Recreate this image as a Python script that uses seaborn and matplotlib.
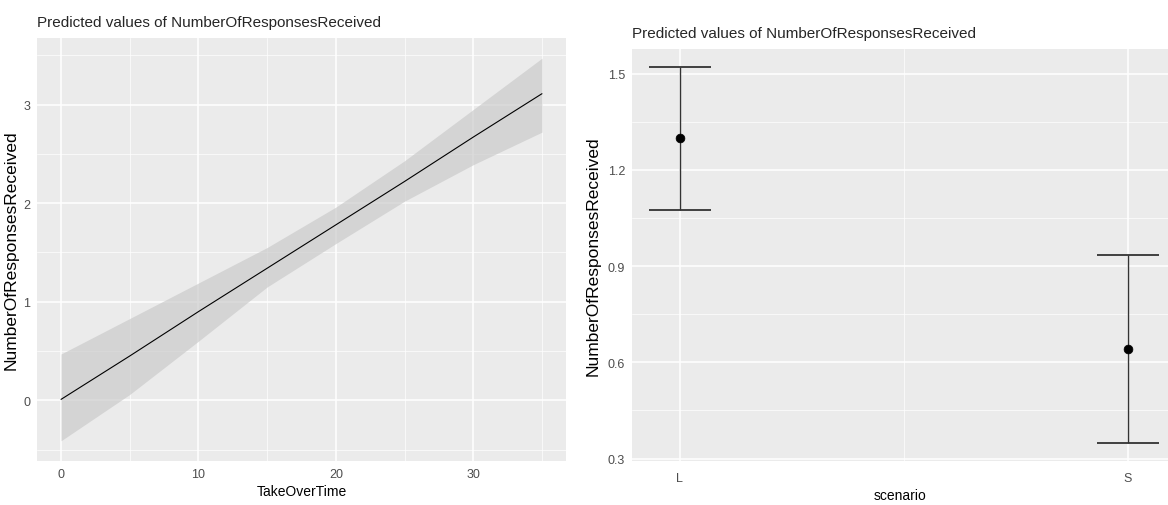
import numpy as np
import pandas as pd
import seaborn as sns
import matplotlib.pyplot as plt

# left panel: predicted values by TakeOverTime
takeover_time = [0, 5, 10, 15, 20, 25, 30, 35]
pred_time = [0.01, 0.45, 0.90, 1.34, 1.78, 2.22, 2.67, 3.11]
low_time = [-0.41, 0.06, 0.60, 1.15, 1.59, 2.02, 2.39, 2.72]
high_time = [0.47, 0.83, 1.19, 1.55, 1.96, 2.43, 2.95, 3.47]

# right panel: predicted values by scenario
scenarios = ["L", "S"]
pred_scen = [1.30, 0.64]
low_scen = [1.075, 0.35]
high_scen = [1.519, 0.935]

title = "Predicted values of NumberOfResponsesReceived"
ylab = "NumberOfResponsesReceived"

sns.set_theme(style="darkgrid", rc={
    "axes.facecolor": "#EBEBEB",
    "grid.color": "white",
    "axes.edgecolor": "#EBEBEB",
})
plt.rcParams["font.family"] = ["Liberation Sans", "DejaVu Sans"]

fig = plt.figure(figsize=(11.68, 5.06), dpi=100)
ax1 = fig.add_axes([37 / 1168, 44 / 506, 529 / 1168, 423 / 506])
ax2 = fig.add_axes([632 / 1168, 44 / 506, 536 / 1168, 412 / 506])


def style(ax):
    for s in ax.spines.values():
        s.set_visible(False)
    ax.grid(which="major", color="white", linewidth=1.1)
    ax.grid(which="minor", color="white", linewidth=0.5)
    ax.tick_params(which="major", length=3, width=0.6, color="#333333",
                   labelsize=9, labelcolor="#4D4D4D", pad=2)
    ax.tick_params(which="minor", length=0)


# left
df1 = pd.DataFrame({"TakeOverTime": takeover_time, "pred": pred_time,
                    "low": low_time, "high": high_time})
ax1.fill_between(df1["TakeOverTime"], df1["low"], df1["high"],
                 color="#C8C8C8", alpha=0.65, linewidth=0)
sns.lineplot(data=df1, x="TakeOverTime", y="pred", ax=ax1, color="black", linewidth=0.8)
ax1.set_xlim(-1.75, 36.75)
ax1.set_ylim(-0.615, 3.675)
ax1.set_xticks([0, 10, 20, 30])
ax1.set_xticks([5, 15, 25, 35], minor=True)
ax1.set_yticks([0, 1, 2, 3])
ax1.set_yticks([-0.5, 0.5, 1.5, 2.5, 3.5], minor=True)
style(ax1)
ax1.set_xlabel("TakeOverTime", fontsize=10, color="black", labelpad=3)
ax1.set_ylabel(ylab, fontsize=12.5, color="black", labelpad=3)
ax1.set_title(title, fontsize=11, loc="left", x=0, pad=9)

# right
pos = np.arange(1, len(scenarios) + 1)
df2 = pd.DataFrame({"pos": pos, "pred": pred_scen})
ax2.errorbar(pos, pred_scen,
             yerr=[np.array(pred_scen) - np.array(low_scen), np.array(high_scen) - np.array(pred_scen)],
             fmt="none", ecolor="#333333", elinewidth=1.0, capsize=22, capthick=1.3)
sns.scatterplot(data=df2, x="pos", y="pred", ax=ax2, color="black", s=40, edgecolor="black", zorder=3)
ax2.set_xlim(0.893, 2.09)
ax2.set_ylim(0.2925, 1.5765)
ax2.set_xticks(pos)
ax2.set_xticklabels(scenarios)
ax2.set_xticks([1.5], minor=True)
ax2.set_yticks([0.3, 0.6, 0.9, 1.2, 1.5])
ax2.set_yticklabels(["0.3", "0.6", "0.9", "1.2", "1.5"])
ax2.set_yticks([0.45, 0.75, 1.05, 1.35], minor=True)
style(ax2)
ax2.tick_params(axis="x", pad=5)
ax2.set_xlabel("scenario", fontsize=10, color="black", labelpad=3)
ax2.set_ylabel(ylab, fontsize=12.5, color="black", labelpad=5)
ax2.set_title(title, fontsize=11, loc="left", x=0, pad=9)

fig.savefig("out.png", dpi=100)
